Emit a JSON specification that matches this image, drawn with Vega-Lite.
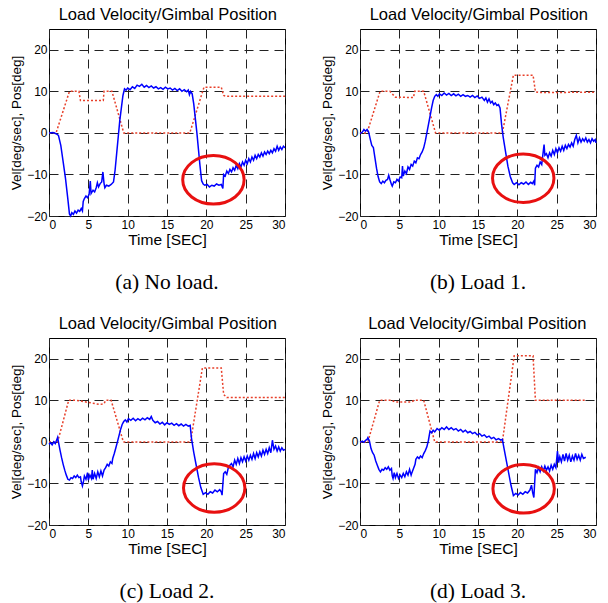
{
  "$schema": "https://vega.github.io/schema/vega-lite/v6.json",
  "padding": {"left": 9, "top": 7, "right": 5, "bottom": 0},
  "background": "white",
  "config": {
    "view": {"stroke": "black", "strokeWidth": 1},
    "axis": {"labelFont": "Liberation Sans", "labelFontSize": 12, "labelColor": "black", "titleFont": "Liberation Sans", "titleFontSize": 13.5, "titleFontWeight": "normal", "titleColor": "black", "gridColor": "#222222", "gridDash": [9, 6], "gridOpacity": 1, "gridWidth": 1, "domain": false, "ticks": false, "labelOverlap": false},
    "title": {"font": "Liberation Sans", "fontSize": 16.5, "fontWeight": "normal", "color": "black"}
  },
  "datasets": {
    "velA": [{"t":0,"v":0},{"t":0.5,"v":0.1},{"t":0.9,"v":-0.2},{"t":1.2,"v":-0.6},{"t":1.5,"v":-3},{"t":1.8,"v":-7},{"t":2.1,"v":-11},{"t":2.4,"v":-16},{"t":2.6,"v":-19.5},{"t":2.75,"v":-20},{"t":2.9,"v":-19.2},{"t":3.1,"v":-19.6},{"t":3.3,"v":-18.8},{"t":3.5,"v":-19.3},{"t":3.7,"v":-18.6},{"t":3.9,"v":-18.9},{"t":4.1,"v":-18.2},{"t":4.25,"v":-18.8},{"t":4.35,"v":-16.5},{"t":4.5,"v":-15.8},{"t":4.7,"v":-15.2},{"t":4.9,"v":-15.6},{"t":5.1,"v":-14.8},{"t":5.25,"v":-11.6},{"t":5.35,"v":-14.6},{"t":5.6,"v":-13.8},{"t":5.8,"v":-14.2},{"t":6.0,"v":-13.2},{"t":6.15,"v":-12},{"t":6.3,"v":-13},{"t":6.5,"v":-12.2},{"t":6.7,"v":-11.8},{"t":6.85,"v":-9.4},{"t":7.0,"v":-12.2},{"t":7.1,"v":-13.2},{"t":7.3,"v":-12.6},{"t":7.6,"v":-12.8},{"t":7.9,"v":-12.4},{"t":8.2,"v":-11.8},{"t":8.4,"v":-9},{"t":8.6,"v":-5},{"t":8.8,"v":-1},{"t":9.0,"v":3},{"t":9.2,"v":6},{"t":9.4,"v":9},{"t":9.6,"v":10.6},{"t":9.8,"v":10.3},{"t":10.0,"v":10.8},{"t":10.3,"v":10.4},{"t":10.6,"v":11.1},{"t":10.9,"v":10.7},{"t":11.2,"v":11.5},{"t":11.5,"v":11.2},{"t":11.8,"v":11.7},{"t":12.1,"v":11},{"t":12.4,"v":11.4},{"t":12.7,"v":10.9},{"t":13.0,"v":11.3},{"t":13.3,"v":10.8},{"t":13.6,"v":11.1},{"t":13.9,"v":10.6},{"t":14.2,"v":10.9},{"t":14.5,"v":10.5},{"t":14.8,"v":11},{"t":15.1,"v":10.6},{"t":15.4,"v":10.8},{"t":15.7,"v":10.3},{"t":16.0,"v":10.7},{"t":16.3,"v":10.2},{"t":16.6,"v":10.6},{"t":16.9,"v":10},{"t":17.2,"v":10.4},{"t":17.5,"v":9.9},{"t":17.7,"v":10.3},{"t":17.85,"v":9.2},{"t":18.0,"v":10},{"t":18.2,"v":9.4},{"t":18.4,"v":7},{"t":18.6,"v":3.5},{"t":18.8,"v":0},{"t":19.0,"v":-4},{"t":19.2,"v":-8},{"t":19.4,"v":-11.5},{"t":19.6,"v":-12.3},{"t":19.8,"v":-12.6},{"t":20.1,"v":-12.4},{"t":20.4,"v":-13},{"t":20.7,"v":-12.6},{"t":21.0,"v":-12.8},{"t":21.3,"v":-12.3},{"t":21.6,"v":-12.6},{"t":21.9,"v":-12.4},{"t":22.1,"v":-13.4},{"t":22.2,"v":-10},{"t":22.4,"v":-10.4},{"t":22.6,"v":-9.2},{"t":22.8,"v":-9.8},{"t":23.0,"v":-8.8},{"t":23.2,"v":-9.4},{"t":23.4,"v":-8.4},{"t":23.6,"v":-9},{"t":23.8,"v":-7.8},{"t":24.0,"v":-8.6},{"t":24.2,"v":-7.4},{"t":24.4,"v":-8.2},{"t":24.6,"v":-7},{"t":24.8,"v":-7.8},{"t":25.0,"v":-6.6},{"t":25.2,"v":-7.4},{"t":25.4,"v":-6.2},{"t":25.6,"v":-7},{"t":25.8,"v":-5.8},{"t":26.0,"v":-6.6},{"t":26.2,"v":-5.4},{"t":26.4,"v":-6.2},{"t":26.6,"v":-5.2},{"t":26.8,"v":-5.8},{"t":27.0,"v":-4.8},{"t":27.2,"v":-5.6},{"t":27.4,"v":-4.6},{"t":27.6,"v":-5.2},{"t":27.8,"v":-4.4},{"t":28.0,"v":-5},{"t":28.2,"v":-4.2},{"t":28.4,"v":-4.8},{"t":28.6,"v":-3.8},{"t":28.8,"v":-4.4},{"t":29.0,"v":-3.2},{"t":29.2,"v":-4.2},{"t":29.4,"v":-3.4},{"t":29.6,"v":-4},{"t":29.8,"v":-3.2},{"t":30,"v":-3.6}],
    "posA": [{"t":0,"v":0},{"t":0.9,"v":0},{"t":2.6,"v":10},{"t":3.8,"v":10},{"t":4.0,"v":7.8},{"t":6.9,"v":7.8},{"t":7.0,"v":10},{"t":8.0,"v":10},{"t":9.5,"v":0},{"t":17.9,"v":0},{"t":19.7,"v":11},{"t":21.9,"v":11},{"t":22.2,"v":9},{"t":22.6,"v":8.8},{"t":30,"v":8.8}],
    "ellA": [{"t":20.9,"v":-11.3}],
    "velB": [{"t":0,"v":-0.2},{"t":0.3,"v":0.2},{"t":0.5,"v":0.8},{"t":0.7,"v":0.4},{"t":0.9,"v":0.8},{"t":1.1,"v":0.2},{"t":1.3,"v":-1.5},{"t":1.5,"v":-3},{"t":1.7,"v":-3.5},{"t":1.9,"v":-6},{"t":2.1,"v":-8.5},{"t":2.3,"v":-10.5},{"t":2.5,"v":-11.8},{"t":2.7,"v":-12.2},{"t":2.9,"v":-11.6},{"t":3.1,"v":-12},{"t":3.3,"v":-11.4},{"t":3.5,"v":-11.2},{"t":3.65,"v":-10.2},{"t":3.8,"v":-11.2},{"t":4.0,"v":-12.4},{"t":4.1,"v":-12.8},{"t":4.3,"v":-11.8},{"t":4.5,"v":-12},{"t":4.7,"v":-11.2},{"t":4.9,"v":-11.6},{"t":5.1,"v":-10.6},{"t":5.3,"v":-10.8},{"t":5.4,"v":-8},{"t":5.5,"v":-10.4},{"t":5.7,"v":-9.2},{"t":5.9,"v":-9.8},{"t":6.1,"v":-8.2},{"t":6.3,"v":-8.8},{"t":6.5,"v":-7.6},{"t":6.7,"v":-8},{"t":6.9,"v":-6.8},{"t":7.1,"v":-7.2},{"t":7.3,"v":-6},{"t":7.5,"v":-6.2},{"t":7.7,"v":-5.2},{"t":7.9,"v":-4.6},{"t":8.1,"v":-3.6},{"t":8.3,"v":-2},{"t":8.5,"v":0},{"t":8.7,"v":2},{"t":8.9,"v":4},{"t":9.1,"v":6},{"t":9.3,"v":7.8},{"t":9.5,"v":8.8},{"t":9.7,"v":9.2},{"t":9.9,"v":8.8},{"t":10.1,"v":9.4},{"t":10.4,"v":9},{"t":10.7,"v":9.6},{"t":11.0,"v":9.1},{"t":11.3,"v":9.5},{"t":11.6,"v":9},{"t":11.9,"v":9.4},{"t":12.2,"v":8.9},{"t":12.5,"v":9.3},{"t":12.8,"v":8.8},{"t":13.1,"v":9.2},{"t":13.4,"v":8.8},{"t":13.7,"v":9},{"t":14.0,"v":8.6},{"t":14.3,"v":9},{"t":14.6,"v":8.5},{"t":14.9,"v":8.9},{"t":15.2,"v":8.3},{"t":15.5,"v":8.6},{"t":15.8,"v":7.8},{"t":16.0,"v":8.4},{"t":16.2,"v":7.4},{"t":16.4,"v":8.2},{"t":16.6,"v":7.2},{"t":16.8,"v":7.6},{"t":17.0,"v":6.8},{"t":17.2,"v":7.2},{"t":17.4,"v":6.6},{"t":17.6,"v":6.8},{"t":17.8,"v":6},{"t":18.0,"v":2},{"t":18.2,"v":-1},{"t":18.5,"v":-4.5},{"t":18.8,"v":-8},{"t":19.1,"v":-10.5},{"t":19.4,"v":-12},{"t":19.6,"v":-12.4},{"t":19.9,"v":-12},{"t":20.2,"v":-12.5},{"t":20.5,"v":-12},{"t":20.8,"v":-12.3},{"t":21.1,"v":-11.8},{"t":21.4,"v":-12.4},{"t":21.7,"v":-11.9},{"t":21.9,"v":-12.2},{"t":22.1,"v":-11.6},{"t":22.2,"v":-12.6},{"t":22.3,"v":-8.5},{"t":22.5,"v":-7.8},{"t":22.7,"v":-8.2},{"t":22.9,"v":-7},{"t":23.1,"v":-7.6},{"t":23.3,"v":-4.4},{"t":23.4,"v":-2.8},{"t":23.5,"v":-5.4},{"t":23.7,"v":-5},{"t":23.9,"v":-6},{"t":24.1,"v":-4.8},{"t":24.3,"v":-5.6},{"t":24.5,"v":-4.2},{"t":24.7,"v":-5.2},{"t":24.9,"v":-3.8},{"t":25.1,"v":-4.8},{"t":25.3,"v":-3.6},{"t":25.5,"v":-4.4},{"t":25.7,"v":-3.2},{"t":25.9,"v":-4.2},{"t":26.1,"v":-3},{"t":26.3,"v":-3.8},{"t":26.5,"v":-2.8},{"t":26.7,"v":-3.4},{"t":26.9,"v":-2.4},{"t":27.1,"v":-3.2},{"t":27.3,"v":-1.6},{"t":27.5,"v":-0.6},{"t":27.7,"v":-2.4},{"t":27.9,"v":-1.2},{"t":28.1,"v":-2.2},{"t":28.3,"v":-1.4},{"t":28.5,"v":-2},{"t":28.7,"v":-1.2},{"t":28.9,"v":-2.2},{"t":29.1,"v":-1.6},{"t":29.3,"v":-2.4},{"t":29.5,"v":-1.4},{"t":29.7,"v":-2},{"t":29.9,"v":-1.6},{"t":30,"v":-2.4}],
    "posB": [{"t":0,"v":0},{"t":0.9,"v":0},{"t":2.55,"v":10},{"t":3.8,"v":10},{"t":4.5,"v":8.6},{"t":6.8,"v":8.5},{"t":6.95,"v":10},{"t":8.1,"v":10},{"t":9.6,"v":0},{"t":18.1,"v":0},{"t":19.5,"v":13.9},{"t":22.0,"v":13.9},{"t":22.3,"v":9.9},{"t":22.8,"v":9.7},{"t":30,"v":9.8}],
    "ellB": [{"t":20.75,"v":-10.9}],
    "velC": [{"t":0,"v":-0.6},{"t":0.2,"v":-0.2},{"t":0.4,"v":-0.7},{"t":0.6,"v":0},{"t":0.8,"v":-0.4},{"t":1.0,"v":0.6},{"t":1.1,"v":1.1},{"t":1.2,"v":0},{"t":1.4,"v":-2},{"t":1.6,"v":-3.8},{"t":1.8,"v":-5.4},{"t":2.0,"v":-6.8},{"t":2.2,"v":-8},{"t":2.4,"v":-9},{"t":2.6,"v":-9.2},{"t":2.8,"v":-8.6},{"t":3.0,"v":-8.8},{"t":3.2,"v":-8.2},{"t":3.4,"v":-8.6},{"t":3.6,"v":-8},{"t":3.8,"v":-8.6},{"t":4.0,"v":-8.4},{"t":4.1,"v":-9.6},{"t":4.25,"v":-10.6},{"t":4.4,"v":-9.4},{"t":4.5,"v":-8.2},{"t":4.7,"v":-9},{"t":4.9,"v":-7.4},{"t":5.0,"v":-9.2},{"t":5.2,"v":-8},{"t":5.4,"v":-8.8},{"t":5.5,"v":-6.8},{"t":5.6,"v":-9},{"t":5.8,"v":-7.6},{"t":6.0,"v":-8.8},{"t":6.2,"v":-7.2},{"t":6.4,"v":-8.4},{"t":6.6,"v":-7},{"t":6.8,"v":-8.2},{"t":7.0,"v":-6.8},{"t":7.2,"v":-6.2},{"t":7.4,"v":-5.4},{"t":7.6,"v":-5.8},{"t":7.8,"v":-4.8},{"t":8.0,"v":-5.2},{"t":8.1,"v":-4},{"t":8.3,"v":-2.8},{"t":8.5,"v":-1.4},{"t":8.7,"v":0},{"t":8.9,"v":1.5},{"t":9.1,"v":3},{"t":9.3,"v":4.2},{"t":9.5,"v":4.9},{"t":9.7,"v":5.3},{"t":9.9,"v":4.8},{"t":10.1,"v":5.6},{"t":10.4,"v":5.2},{"t":10.7,"v":5.7},{"t":11.0,"v":5.1},{"t":11.3,"v":5.6},{"t":11.6,"v":5.2},{"t":11.9,"v":5.7},{"t":12.2,"v":5.3},{"t":12.5,"v":5.8},{"t":12.8,"v":5.4},{"t":13.0,"v":6.1},{"t":13.2,"v":5.2},{"t":13.5,"v":4.6},{"t":13.8,"v":4.9},{"t":14.1,"v":4.3},{"t":14.4,"v":4.7},{"t":14.7,"v":4.1},{"t":15.0,"v":4.6},{"t":15.3,"v":4.2},{"t":15.6,"v":4.5},{"t":15.9,"v":4},{"t":16.2,"v":4.4},{"t":16.5,"v":3.9},{"t":16.8,"v":4.3},{"t":17.1,"v":3.8},{"t":17.4,"v":4.2},{"t":17.7,"v":3.8},{"t":17.95,"v":4},{"t":18.1,"v":1},{"t":18.4,"v":-2.5},{"t":18.7,"v":-5.5},{"t":19.0,"v":-8.5},{"t":19.3,"v":-11},{"t":19.6,"v":-12.6},{"t":19.9,"v":-12.2},{"t":20.2,"v":-12.6},{"t":20.5,"v":-12},{"t":20.8,"v":-12.3},{"t":21.1,"v":-11.6},{"t":21.4,"v":-12},{"t":21.7,"v":-11.5},{"t":21.9,"v":-12},{"t":22.0,"v":-12.8},{"t":22.2,"v":-7.6},{"t":22.4,"v":-7.2},{"t":22.6,"v":-7.8},{"t":22.8,"v":-6.2},{"t":23.0,"v":-5.6},{"t":23.2,"v":-5.2},{"t":23.4,"v":-6},{"t":23.6,"v":-4.4},{"t":23.8,"v":-5.4},{"t":24.0,"v":-4},{"t":24.2,"v":-5.2},{"t":24.4,"v":-3.8},{"t":24.6,"v":-4.8},{"t":24.8,"v":-3.6},{"t":25.0,"v":-4.6},{"t":25.2,"v":-3.4},{"t":25.4,"v":-4.4},{"t":25.6,"v":-3.2},{"t":25.8,"v":-4.2},{"t":26.0,"v":-2.8},{"t":26.2,"v":-4},{"t":26.4,"v":-2.6},{"t":26.6,"v":-3.6},{"t":26.8,"v":-2.4},{"t":27.0,"v":-3.4},{"t":27.2,"v":-2},{"t":27.4,"v":-3},{"t":27.6,"v":-1.8},{"t":27.8,"v":-2.8},{"t":28.0,"v":-1.4},{"t":28.2,"v":-2.6},{"t":28.4,"v":0.4},{"t":28.6,"v":-1.8},{"t":28.8,"v":-1},{"t":29.0,"v":-2.2},{"t":29.2,"v":-1.2},{"t":29.4,"v":-2.2},{"t":29.6,"v":-1.4},{"t":29.8,"v":-2},{"t":30,"v":-1.8}],
    "posC": [{"t":0,"v":0},{"t":1.1,"v":0},{"t":2.5,"v":10},{"t":3.5,"v":10},{"t":6.5,"v":9},{"t":7.0,"v":9.2},{"t":7.2,"v":10},{"t":7.9,"v":10},{"t":9.45,"v":0},{"t":18.0,"v":0},{"t":19.5,"v":17.8},{"t":21.9,"v":17.8},{"t":22.2,"v":11.4},{"t":22.6,"v":10.7},{"t":30,"v":10.7}],
    "ellC": [{"t":21.0,"v":-11.1}],
    "velD": [{"t":0,"v":-0.1},{"t":0.3,"v":0.2},{"t":0.5,"v":-0.1},{"t":0.7,"v":0.4},{"t":0.9,"v":0.6},{"t":1.0,"v":1},{"t":1.2,"v":0.2},{"t":1.4,"v":-1.6},{"t":1.6,"v":-2.6},{"t":1.8,"v":-3.2},{"t":2.0,"v":-4.6},{"t":2.2,"v":-5.6},{"t":2.4,"v":-6.6},{"t":2.6,"v":-7.2},{"t":2.8,"v":-6.6},{"t":3.0,"v":-6.8},{"t":3.2,"v":-6.2},{"t":3.4,"v":-6.6},{"t":3.6,"v":-6},{"t":3.8,"v":-6.8},{"t":4.0,"v":-6.4},{"t":4.1,"v":-8.2},{"t":4.2,"v":-8.8},{"t":4.35,"v":-7.4},{"t":4.5,"v":-8.6},{"t":4.7,"v":-7.6},{"t":4.9,"v":-8.8},{"t":5.1,"v":-8},{"t":5.3,"v":-8.6},{"t":5.5,"v":-7.6},{"t":5.7,"v":-8.4},{"t":5.9,"v":-7.2},{"t":6.1,"v":-8},{"t":6.3,"v":-6.6},{"t":6.5,"v":-8},{"t":6.6,"v":-7.4},{"t":6.8,"v":-6.4},{"t":7.0,"v":-5.4},{"t":7.1,"v":-4.2},{"t":7.3,"v":-3.6},{"t":7.5,"v":-4},{"t":7.7,"v":-3.4},{"t":7.9,"v":-3.8},{"t":8.1,"v":-2.8},{"t":8.3,"v":-2.1},{"t":8.5,"v":-1.2},{"t":8.7,"v":0.4},{"t":8.9,"v":2.6},{"t":9.1,"v":2.2},{"t":9.3,"v":2.8},{"t":9.5,"v":2.4},{"t":9.8,"v":3.2},{"t":10.1,"v":2.8},{"t":10.4,"v":3.4},{"t":10.7,"v":3},{"t":11.0,"v":3.6},{"t":11.3,"v":3},{"t":11.6,"v":3.4},{"t":11.9,"v":2.9},{"t":12.2,"v":3.2},{"t":12.5,"v":2.6},{"t":12.8,"v":3},{"t":13.1,"v":2.4},{"t":13.4,"v":2.8},{"t":13.7,"v":2.2},{"t":14.0,"v":2.5},{"t":14.3,"v":2},{"t":14.6,"v":2.3},{"t":14.9,"v":1.7},{"t":15.2,"v":2},{"t":15.5,"v":1.4},{"t":15.8,"v":1.7},{"t":16.1,"v":1.1},{"t":16.4,"v":1.4},{"t":16.7,"v":0.8},{"t":17.0,"v":1.1},{"t":17.3,"v":0.5},{"t":17.6,"v":0.8},{"t":17.9,"v":0.4},{"t":18.1,"v":0.6},{"t":18.3,"v":-1.5},{"t":18.6,"v":-4.5},{"t":18.9,"v":-7.5},{"t":19.2,"v":-10.5},{"t":19.5,"v":-12.9},{"t":19.8,"v":-12.4},{"t":20.1,"v":-12.8},{"t":20.4,"v":-12.2},{"t":20.7,"v":-12.6},{"t":21.0,"v":-12},{"t":21.3,"v":-12.3},{"t":21.6,"v":-11.6},{"t":21.8,"v":-10.4},{"t":21.95,"v":-12.2},{"t":22.1,"v":-13.4},{"t":22.3,"v":-6.6},{"t":22.5,"v":-7.4},{"t":22.7,"v":-6.2},{"t":22.9,"v":-7.2},{"t":23.1,"v":-6},{"t":23.3,"v":-7},{"t":23.5,"v":-5.8},{"t":23.7,"v":-6.8},{"t":23.9,"v":-6},{"t":24.1,"v":-7},{"t":24.3,"v":-5.6},{"t":24.5,"v":-6.6},{"t":24.7,"v":-5.4},{"t":24.9,"v":-6.2},{"t":25.1,"v":-2.2},{"t":25.25,"v":-5},{"t":25.4,"v":-3.6},{"t":25.6,"v":-4.8},{"t":25.8,"v":-3},{"t":26.0,"v":-4.6},{"t":26.2,"v":-2.8},{"t":26.4,"v":-4.4},{"t":26.6,"v":-3.2},{"t":26.8,"v":-4.8},{"t":27.0,"v":-3.4},{"t":27.2,"v":-4.4},{"t":27.4,"v":-2.8},{"t":27.6,"v":-4.2},{"t":27.8,"v":-3.2},{"t":28.0,"v":-4.4},{"t":28.2,"v":-3},{"t":28.4,"v":-4},{"t":28.7,"v":-3.7}],
    "posD": [{"t":0,"v":0},{"t":1.0,"v":0},{"t":2.5,"v":10},{"t":4.0,"v":10},{"t":4.5,"v":9.6},{"t":6.5,"v":9.6},{"t":6.9,"v":10},{"t":8.1,"v":10},{"t":9.5,"v":0},{"t":18.1,"v":0},{"t":19.6,"v":20.7},{"t":22.0,"v":20.7},{"t":22.3,"v":10},{"t":28.6,"v":10}],
    "ellD": [{"t":20.8,"v":-11.3}]
  },
  "vconcat": [
    {"hconcat": [
      {"title": {"text": "Load Velocity/Gimbal Position", "anchor": "middle", "dx": 19, "offset": 5},
       "vconcat": [{"width": 236, "height": 187,
       "title": {"text": "(a) No load.", "orient": "bottom", "frame": "group", "font": "Liberation Serif", "fontSize": 21.5, "fontWeight": "normal", "color": "black", "offset": 24},
       "encoding": {"x": {"field": "t", "type": "quantitative", "scale": {"domain": [0, 30], "nice": false}, "axis": {"values": [0,5,10,15,20,25,30], "title": "Time [SEC]", "titleFontSize": 15.5, "grid": true, "labelPadding": 3, "titlePadding": 2}},
                    "y": {"field": "v", "type": "quantitative", "scale": {"domain": [-20, 25], "nice": false}, "axis": {"values": [-20,-10,0,10,20], "title": "Vel[deg/sec], Pos[deg]", "grid": true, "labelPadding": 2, "titlePadding": 3}}},
       "layer": [
        {"data": {"name": "posA"}, "mark": {"type": "line", "color": "#e8402a", "strokeDash": [2, 2], "strokeWidth": 1.5}},
        {"data": {"name": "velA"}, "mark": {"type": "line", "color": "#0000ff", "strokeWidth": 1.5}},
        {"data": {"name": "ellA"}, "mark": {"type": "point", "shape": "M 1 0 C 1 0.4363 0.5523 0.79 0 0.79 C -0.5523 0.79 -1 0.4363 -1 0 C -1 -0.4363 -0.5523 -0.79 0 -0.79 C 0.5523 -0.79 1 -0.4363 1 0 Z", "size": 3770, "filled": false, "color": "#e81010", "strokeWidth": 3, "opacity": 1}}
       ]}]},
      {"title": {"text": "Load Velocity/Gimbal Position", "anchor": "middle", "dx": 19, "offset": 5},
       "vconcat": [{"width": 236, "height": 187,
       "title": {"text": "(b) Load 1.", "orient": "bottom", "frame": "group", "font": "Liberation Serif", "fontSize": 21.5, "fontWeight": "normal", "color": "black", "offset": 24},
       "encoding": {"x": {"field": "t", "type": "quantitative", "scale": {"domain": [0, 30], "nice": false}, "axis": {"values": [0,5,10,15,20,25,30], "title": "Time [SEC]", "titleFontSize": 15.5, "grid": true, "labelPadding": 3, "titlePadding": 2}},
                    "y": {"field": "v", "type": "quantitative", "scale": {"domain": [-20, 25], "nice": false}, "axis": {"values": [-20,-10,0,10,20], "title": "Vel[deg/sec], Pos[deg]", "grid": true, "labelPadding": 2, "titlePadding": 3}}},
       "layer": [
        {"data": {"name": "posB"}, "mark": {"type": "line", "color": "#e8402a", "strokeDash": [2, 2], "strokeWidth": 1.5}},
        {"data": {"name": "velB"}, "mark": {"type": "line", "color": "#0000ff", "strokeWidth": 1.5}},
        {"data": {"name": "ellB"}, "mark": {"type": "point", "shape": "M 1 0 C 1 0.4363 0.5523 0.79 0 0.79 C -0.5523 0.79 -1 0.4363 -1 0 C -1 -0.4363 -0.5523 -0.79 0 -0.79 C 0.5523 -0.79 1 -0.4363 1 0 Z", "size": 3770, "filled": false, "color": "#e81010", "strokeWidth": 3, "opacity": 1}}
       ]}]}
    ], "spacing": 31},
    {"hconcat": [
      {"title": {"text": "Load Velocity/Gimbal Position", "anchor": "middle", "dx": 19, "offset": 5},
       "vconcat": [{"width": 236, "height": 187,
       "title": {"text": "(c) Load 2.", "orient": "bottom", "frame": "group", "font": "Liberation Serif", "fontSize": 21.5, "fontWeight": "normal", "color": "black", "offset": 24},
       "encoding": {"x": {"field": "t", "type": "quantitative", "scale": {"domain": [0, 30], "nice": false}, "axis": {"values": [0,5,10,15,20,25,30], "title": "Time [SEC]", "titleFontSize": 15.5, "grid": true, "labelPadding": 3, "titlePadding": 2}},
                    "y": {"field": "v", "type": "quantitative", "scale": {"domain": [-20, 25], "nice": false}, "axis": {"values": [-20,-10,0,10,20], "title": "Vel[deg/sec], Pos[deg]", "grid": true, "labelPadding": 2, "titlePadding": 3}}},
       "layer": [
        {"data": {"name": "posC"}, "mark": {"type": "line", "color": "#e8402a", "strokeDash": [2, 2], "strokeWidth": 1.5}},
        {"data": {"name": "velC"}, "mark": {"type": "line", "color": "#0000ff", "strokeWidth": 1.5}},
        {"data": {"name": "ellC"}, "mark": {"type": "point", "shape": "M 1 0 C 1 0.4363 0.5523 0.79 0 0.79 C -0.5523 0.79 -1 0.4363 -1 0 C -1 -0.4363 -0.5523 -0.79 0 -0.79 C 0.5523 -0.79 1 -0.4363 1 0 Z", "size": 3770, "filled": false, "color": "#e81010", "strokeWidth": 3, "opacity": 1}}
       ]}]},
      {"title": {"text": "Load Velocity/Gimbal Position", "anchor": "middle", "dx": 19, "offset": 5},
       "vconcat": [{"width": 236, "height": 187,
       "title": {"text": "(d) Load 3.", "orient": "bottom", "frame": "group", "font": "Liberation Serif", "fontSize": 21.5, "fontWeight": "normal", "color": "black", "offset": 24},
       "encoding": {"x": {"field": "t", "type": "quantitative", "scale": {"domain": [0, 30], "nice": false}, "axis": {"values": [0,5,10,15,20,25,30], "title": "Time [SEC]", "titleFontSize": 15.5, "grid": true, "labelPadding": 3, "titlePadding": 2}},
                    "y": {"field": "v", "type": "quantitative", "scale": {"domain": [-20, 25], "nice": false}, "axis": {"values": [-20,-10,0,10,20], "title": "Vel[deg/sec], Pos[deg]", "grid": true, "labelPadding": 2, "titlePadding": 3}}},
       "layer": [
        {"data": {"name": "posD"}, "mark": {"type": "line", "color": "#e8402a", "strokeDash": [2, 2], "strokeWidth": 1.5}},
        {"data": {"name": "velD"}, "mark": {"type": "line", "color": "#0000ff", "strokeWidth": 1.5}},
        {"data": {"name": "ellD"}, "mark": {"type": "point", "shape": "M 1 0 C 1 0.4363 0.5523 0.79 0 0.79 C -0.5523 0.79 -1 0.4363 -1 0 C -1 -0.4363 -0.5523 -0.79 0 -0.79 C 0.5523 -0.79 1 -0.4363 1 0 Z", "size": 3770, "filled": false, "color": "#e81010", "strokeWidth": 3, "opacity": 1}}
       ]}]}
    ], "spacing": 31}
  ],
  "spacing": 22
}
